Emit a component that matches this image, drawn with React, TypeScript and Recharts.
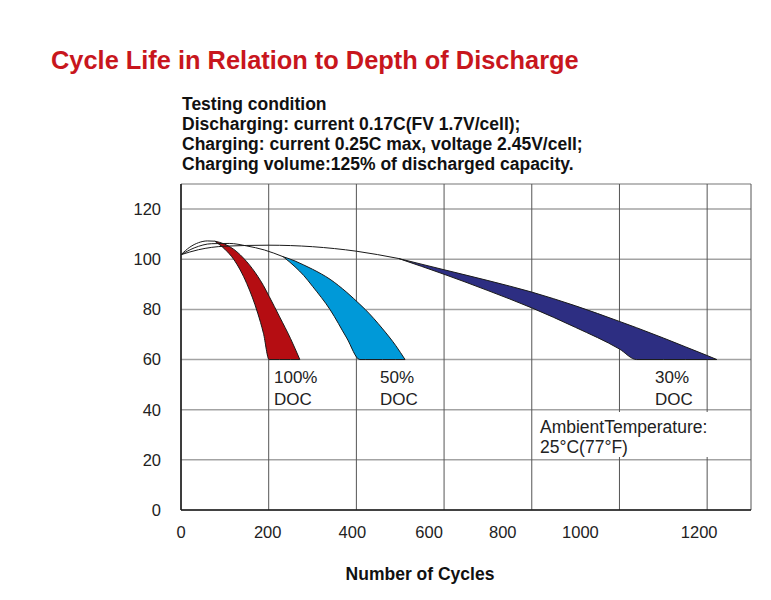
import {
  Area,
  CartesianGrid,
  ComposedChart,
  Line,
  XAxis,
  YAxis,
} from "recharts";

const X_TICKS = [0, 200, 400, 600, 800, 1000, 1200];
const Y_TICKS = [0, 20, 40, 60, 80, 100, 120];
// the printed labels sit a bit left of their grid lines in the original
const X_TICK_DX = [0, -1, -4, -15, -29, -39, -8];

const TESTING_LINES = [
  "Testing condition",
  "Discharging: current 0.17C(FV 1.7V/cell);",
  "Charging: current 0.25C max, voltage 2.45V/cell;",
  "Charging volume:125% of discharged capacity.",
];

// 100% DOC: common start, then a band between the shortest and longest life curve
const RED_SHARED = [
  { x: 0, y: 101.8 },
  { x: 20, y: 104.8 },
  { x: 40, y: 106.6 },
  { x: 60, y: 107.3 },
  { x: 77, y: 107.2 },
];
const RED_BAND = [
  { x: 77, band: [107.2, 107.2] },
  { x: 100, band: [104, 106] },
  { x: 120, band: [100, 104] },
  { x: 150, band: [90.3, 99] },
  { x: 175, band: [78.5, 93.2] },
  { x: 188, band: [70.5, 89.5] },
  { x: 201, band: [60, 85.2] },
  { x: 225, band: [60, 77] },
  { x: 250, band: [60, 68.3] },
  { x: 271, band: [60, 60] },
];

// 50% DOC
const BLUE_SHARED = [
  { x: 0, y: 101.8 },
  { x: 30, y: 104.5 },
  { x: 70, y: 106.2 },
  { x: 110, y: 106.3 },
  { x: 150, y: 105.3 },
  { x: 190, y: 103.7 },
  { x: 233, y: 101 },
];
const BLUE_BAND = [
  { x: 233, band: [101, 101] },
  { x: 260, band: [97, 99.3] },
  { x: 280, band: [93.5, 97.7] },
  { x: 300, band: [89.2, 96] },
  { x: 340, band: [79.9, 92] },
  { x: 378, band: [68.6, 86.8] },
  { x: 408, band: [60, 82] },
  { x: 420, band: [60, 80] },
  { x: 460, band: [60, 72.2] },
  { x: 490, band: [60, 65.5] },
  { x: 511, band: [60, 60] },
];

// 30% DOC
const NAVY_SHARED = [
  { x: 0, y: 101.8 },
  { x: 40, y: 103.8 },
  { x: 100, y: 105.2 },
  { x: 200, y: 105.6 },
  { x: 300, y: 105 },
  { x: 400, y: 103.2 },
  { x: 496, y: 100.3 },
];
const NAVY_BAND = [
  { x: 496, band: [100.3, 100.3] },
  { x: 600, band: [94, 95.8] },
  { x: 700, band: [87.5, 91.5] },
  { x: 800, band: [80.6, 86.9] },
  { x: 900, band: [72.8, 81.4] },
  { x: 1000, band: [64.2, 75.2] },
  { x: 1039, band: [60, 72.7] },
  { x: 1100, band: [60, 68.6] },
  { x: 1150, band: [60, 65.1] },
  { x: 1200, band: [60, 61.6] },
  { x: 1222, band: [60, 60] },
];

const FONT = "'Liberation Sans', Arial, Helvetica, sans-serif";
const INK = "#1a1a1a";

const XTick = (props: any) => {
  const { x, y, payload } = props;
  const i = X_TICKS.indexOf(payload.value);
  return (
    <text
      x={x + (X_TICK_DX[i] ?? 0)}
      y={y}
      dy="0.71em"
      textAnchor="middle"
      fontSize={16.5}
      fontFamily={FONT}
      fill="#222"
    >
      {payload.value}
    </text>
  );
};

const label = (left: number, top: number, text: string, size = 17) => (
  <div
    style={{
      position: "absolute",
      left,
      top,
      fontSize: size,
      lineHeight: "20px",
      color: "#222",
      whiteSpace: "nowrap",
    }}
  >
    {text}
  </div>
);

export default function App() {
  return (
    <div
      style={{
        position: "absolute",
        left: 0,
        top: 0,
        width: 771,
        height: 600,
        background: "#fff",
        fontFamily: FONT,
      }}
    >
      <div
        style={{
          position: "absolute",
          left: 51,
          top: 46,
          fontSize: 25.4,
          fontWeight: "bold",
          color: "#c8161d",
          whiteSpace: "nowrap",
        }}
      >
        Cycle Life in Relation to Depth of Discharge
      </div>

      <div
        style={{
          position: "absolute",
          left: 182,
          top: 94,
          fontSize: 17.5,
          fontWeight: "bold",
          lineHeight: "20px",
          color: "#111",
          whiteSpace: "nowrap",
        }}
      >
        {TESTING_LINES.map((t) => (
          <div key={t}>{t}</div>
        ))}
      </div>

      <ComposedChart
        width={771}
        height={600}
        margin={{ top: 184, right: 20, bottom: 60, left: 121 }}
      >
        <CartesianGrid vertical={false} stroke="#a3a3a3" strokeWidth={1.5} />
        <CartesianGrid horizontal={false} stroke="#555" strokeWidth={1} />
        <XAxis
          dataKey="x"
          type="number"
          domain={[0, 1300]}
          ticks={X_TICKS}
          interval={0}
          tick={<XTick />}
          tickLine={false}
          tickSize={0}
          tickMargin={16}
          height={30}
          axisLine={{ stroke: INK, strokeWidth: 1.5 }}
        />
        <XAxis
          xAxisId="top"
          orientation="top"
          type="number"
          domain={[0, 1300]}
          tick={false}
          tickLine={false}
          height={0}
          axisLine={{ stroke: INK, strokeWidth: 1.5 }}
        />
        <YAxis
          type="number"
          domain={[0, 130]}
          ticks={Y_TICKS}
          interval={0}
          tickLine={false}
          tickSize={0}
          tickMargin={20}
          width={60}
          tick={{ fontSize: 16.5, fill: "#222", fontFamily: FONT }}
          axisLine={{ stroke: INK, strokeWidth: 1.5 }}
        />
        <YAxis
          yAxisId="right"
          orientation="right"
          type="number"
          domain={[0, 130]}
          tick={false}
          tickLine={false}
          width={0}
          axisLine={{ stroke: INK, strokeWidth: 1.5 }}
        />

        <Area
          data={NAVY_BAND}
          dataKey="band"
          type="monotone"
          fill="#2d2e82"
          fillOpacity={1}
          stroke={INK}
          strokeWidth={1}
          isAnimationActive={false}
        />
        <Area
          data={BLUE_BAND}
          dataKey="band"
          type="monotone"
          fill="#0099d8"
          fillOpacity={1}
          stroke={INK}
          strokeWidth={1}
          isAnimationActive={false}
        />
        <Area
          data={RED_BAND}
          dataKey="band"
          type="monotone"
          fill="#b50d12"
          fillOpacity={1}
          stroke={INK}
          strokeWidth={1}
          isAnimationActive={false}
        />
        <Line
          data={NAVY_SHARED}
          dataKey="y"
          type="monotone"
          stroke={INK}
          strokeWidth={1}
          dot={false}
          isAnimationActive={false}
        />
        <Line
          data={BLUE_SHARED}
          dataKey="y"
          type="monotone"
          stroke={INK}
          strokeWidth={1}
          dot={false}
          isAnimationActive={false}
        />
        <Line
          data={RED_SHARED}
          dataKey="y"
          type="monotone"
          stroke={INK}
          strokeWidth={1}
          dot={false}
          isAnimationActive={false}
        />
      </ComposedChart>

      {label(274, 368, "100%")}
      {label(274, 390, "DOC")}
      {label(380, 368, "50%")}
      {label(380, 390, "DOC")}
      {label(655, 368, "30%")}
      {label(655, 390, "DOC")}

      <div
        style={{
          position: "absolute",
          left: 534,
          top: 412,
          width: 206,
          height: 45,
          background: "#fff",
        }}
      />
      {label(540, 417, "AmbientTemperature:", 17.5)}
      {label(540, 437, "25°C(77°F)", 17.5)}

      <div
        style={{
          position: "absolute",
          left: 0,
          width: 840,
          top: 564,
          textAlign: "center",
          fontSize: 17.5,
          fontWeight: "bold",
          color: "#111",
        }}
      >
        Number of Cycles
      </div>
    </div>
  );
}
